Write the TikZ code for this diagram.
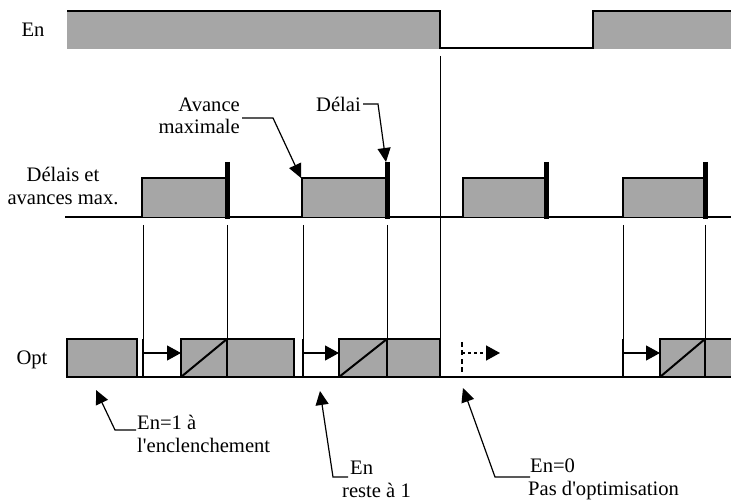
\documentclass[tikz,border=0pt]{standalone}
\usepackage{fontspec}
\setmainfont{Liberation Serif}
\usetikzlibrary{arrows.meta}
\definecolor{sigfill}{RGB}{166,166,166}
\begin{document}
\begin{tikzpicture}[x=1pt,y=-1pt,
  every node/.style={font=\fontsize{20.6}{22.5}\selectfont, inner sep=0pt},
  sig/.style={line width=2pt},
  bar/.style={line width=5pt},
  guide/.style={line width=1pt},
  leader/.style={line width=1.2pt, -{Triangle[length=14pt,width=13pt]}},
  shift arrow/.style={line width=1.2pt, -{Triangle[length=14pt,width=15pt]}},
  lbl/.style={align=center},
]
\useasboundingbox (0,0) rectangle (731,502);

% ---- row labels
\node[lbl] (lEn)  at (33,30) {En};
\node[lbl] (lDel) at (63,186) {Délais et\\avances max.};
\node[lbl] (lOpt) at (32,360) {Opt};

% ---- En signal
\fill[sigfill] (67,11) rectangle (440,49);
\fill[sigfill] (593,11) rectangle (731,49);
\draw[sig] (67,11) -- (440,11) -- (440,48) -- (593,48) -- (593,11) -- (731,11);

% ---- delays and maximum advances
\draw[sig] (65,217) -- (731,217);
\foreach \a/\b in {142/227,302/387,463/546,623/705} {
  \fill[sigfill] (\a,178) rectangle (\b,217);
  \draw[sig] (\a,217) -- (\a,178) -- (\b,178);
  \draw[bar] (\b,162) -- (\b,219.5);
}

% ---- guide lines between the rows
\foreach \x/\e in {143/339,227/339,303/339,387/339,623/339,705/339}
  \draw[guide] (\x,225) -- (\x,\e);
\draw[guide] (440,56) -- (440,339);

% ---- optimisation signal
\foreach \a/\b in {67/137,181/227,227/294,339/387,387/440,660/705} {
  \fill[sigfill] (\a,339) rectangle (\b,377);
  \draw[sig] (\a,339) rectangle (\b,377);
}
\fill[sigfill] (705,339) rectangle (731,377);
\draw[sig] (731,339) -- (705,339) -- (705,377);
\foreach \a/\b in {181/227,339/387,660/705}
  \draw[sig] (\a,377) -- (\b,339);
\draw[sig] (66,377) -- (731,377);
\foreach \x in {143,303,623}
  \draw[sig] (\x,339) -- (\x,377);

% shift arrows
\coordinate (s1) at (143,353); \coordinate (e1) at (181,353);
\coordinate (s2) at (303,353); \coordinate (e2) at (339,353);
\coordinate (s3) at (623,353); \coordinate (e3) at (660,353);
\draw[shift arrow] (s1) -- (e1);
\draw[shift arrow] (s2) -- (e2);
\draw[shift arrow] (s3) -- (e3);

% skipped optimisation
\coordinate (d0) at (462,342); \coordinate (d1) at (462,377);
\draw[line width=2pt, dash pattern=on 5pt off 3.5pt] (d0) -- (d1);
\coordinate (s4) at (462,353); \coordinate (e4) at (500,353);
\draw[line width=1.5pt, dash pattern=on 3pt off 3pt, -{Triangle[length=14pt,width=15pt]}] (s4) -- (e4);

% ---- annotations
\node[anchor=east, align=right] (tAv) at (240,116) {Avance\\maximale};
\coordinate (avA) at (242,118); \coordinate (avB) at (273,118); \coordinate (avC) at (301,178);
\draw[leader] (avA) -- (avB) -- (avC);

\node[anchor=east] (tDel) at (361,104) {Délai};
\coordinate (dlA) at (363,104); \coordinate (dlB) at (378,104); \coordinate (dlC) at (386,162);
\draw[leader] (dlA) -- (dlB) -- (dlC);

\node[anchor=west, align=left] (tOn) at (137,434) {En=1 à\\l\textquotesingle enclenchement};
\coordinate (onA) at (136,430); \coordinate (onB) at (115,430); \coordinate (onC) at (96,390);
\draw[leader] (onA) -- (onB) -- (onC);

\node[anchor=west, align=left] (tStay) at (342,479.5) {\hspace*{8pt}En\\reste à 1};
\coordinate (stA) at (348,477); \coordinate (stB) at (333,477); \coordinate (stC) at (320,391);
\draw[leader] (stA) -- (stB) -- (stC);

\node[anchor=west, align=left] (tOff) at (528,479.5) {\hspace*{2pt}En=0\\Pas d\textquotesingle optimisation};
\coordinate (ofA) at (530,477); \coordinate (ofB) at (495,477); \coordinate (ofC) at (463,388);
\draw[leader] (ofA) -- (ofB) -- (ofC);
\end{tikzpicture}
\end{document}
